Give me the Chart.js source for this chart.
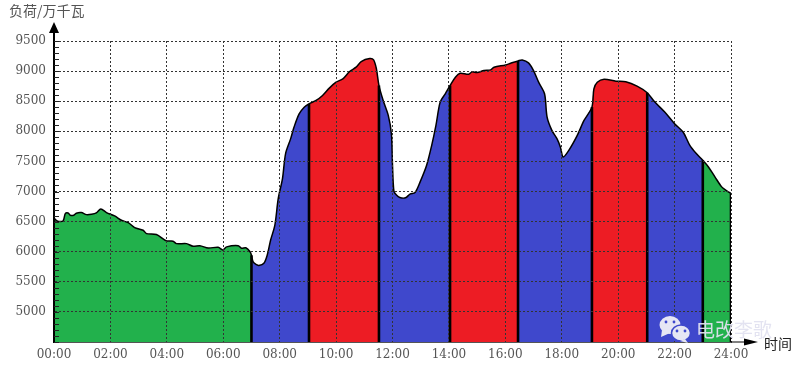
<!DOCTYPE html>
<html>
<head>
<meta charset="utf-8">
<title>负荷曲线</title>
<style>
    html, body { margin: 0; padding: 0; background: #fff; }
    canvas { display: block; }
</style>
<script src="https://cdn.jsdelivr.net/npm/chart.js@4/dist/chart.umd.min.js"></script>
</head>
<body>
<canvas id="load-chart" width="800" height="366"></canvas>
<script>
const hours = [
    0, 0.08, 0.14, 0.32, 0.4, 0.5, 0.58, 0.7, 0.79, 0.97, 1.15, 1.33, 1.5, 1.66, 1.86,
    2.15, 2.39, 2.63, 2.86, 3.16, 3.28, 3.63, 3.99, 4.22, 4.34, 4.7, 4.93, 5.17, 5.47, 5.82, 5.98,
    6.12, 6.53, 6.65, 6.8, 6.95, 7, 7.06, 7.18, 7.26, 7.44, 7.56, 7.68, 7.83, 7.95,
    8.1, 8.21, 8.39, 8.51, 8.69, 8.87, 9.04, 9.29, 9.52, 9.76, 10, 10.24, 10.48, 10.71, 10.89,
    11.19, 11.33, 11.43, 11.52, 11.67, 11.85, 11.96, 12, 12.05, 12.14, 12.26, 12.46, 12.62, 12.8, 12.98,
    13.21, 13.39, 13.54, 13.69, 13.87, 14.04, 14.23, 14.4, 14.7, 14.82, 15, 15.24, 15.48, 15.6,
    16.01, 16.19, 16.45, 16.6, 16.82, 17, 17.18, 17.39, 17.48, 17.65, 17.83, 17.95,
    18.05, 18.25, 18.55, 18.79, 19.07, 19.14, 19.26, 19.5, 19.92, 20.27, 20.67, 21.03,
    21.3, 21.65, 22, 22.3, 22.54, 22.77, 23, 23.2, 23.43, 23.67, 23.85, 24
];
const load = [
    6560, 6520, 6505, 6510, 6633, 6644, 6605, 6605, 6640, 6650, 6616, 6622, 6644, 6710, 6650,
    6594, 6522, 6483, 6400, 6356, 6300, 6285, 6180, 6175, 6134, 6134, 6090, 6100, 6060, 6075, 6030,
    6080, 6100, 6056, 6065, 6000, 5940, 5830, 5785, 5770, 5808, 5946, 6194, 6442, 6884,
    7215, 7630, 7878, 8070, 8290, 8400, 8457, 8512, 8595, 8717, 8816, 8871, 8993, 9065, 9158,
    9208, 9186, 9037, 8760, 8512, 8264, 7960, 7436, 7005, 6940, 6900, 6895, 6956, 6983, 7160,
    7436, 7767, 8098, 8485, 8623, 8760, 8899, 8965, 8949, 8987, 8976, 9009, 9020, 9065,
    9103, 9131, 9169, 9185, 9136, 9009, 8816, 8623, 8236, 8016, 7878, 7740,
    7574, 7684, 7933, 8180, 8402, 8706, 8816, 8866, 8833, 8822, 8750, 8640,
    8485, 8320, 8126, 7988, 7767, 7630, 7519, 7408, 7243, 7077, 7011, 6967
];
// period edges and the colour between each pair of edges
const periodEdges = [0, 7, 9.04, 11.52, 14.04, 16.45, 19.07, 21.03, 23, 24];
const periodColors = ['#22b14c', '#3f48cc', '#ed1c24', '#3f48cc', '#ed1c24', '#3f48cc', '#ed1c24', '#3f48cc', '#22b14c'];
const xTickLabels = ['00:00', '02:00', '04:00', '06:00', '08:00', '10:00', '12:00', '14:00', '16:00', '18:00', '20:00', '22:00', '24:00'];
const yMin = 4500;
const yMax = 9500;

const labelColor = '#555';
const numberFont = { family: '"DejaVu Serif"', size: 12 };

const datasets = [];

// black curve first so it sits above the fills
datasets.push({
    data: hours.map((h, i) => ({ x: h, y: load[i] })),
    borderColor: '#000',
    borderWidth: 1.5,
    fill: false,
    pointRadius: 0,
    tension: 0.3
});

// drop lines at every period edge
periodEdges.slice(1).forEach(edge => {
    datasets.push({
        data: [{ x: edge, y: yMin }, { x: edge, y: load[hours.indexOf(edge)] }],
        borderColor: '#000',
        borderWidth: 2.6,
        fill: false,
        pointRadius: 0
    });
});

periodColors.forEach((color, i) => {
    const points = [];
    hours.forEach((h, j) => {
        if (h >= periodEdges[i] && h <= periodEdges[i + 1]) {
            points.push({ x: h, y: load[j] });
        }
    });
    datasets.push({
        data: points,
        borderWidth: 0,
        backgroundColor: color,
        fill: 'start',
        pointRadius: 0,
        tension: 0.3
    });
});

const decorations = {
    id: 'decorations',
    afterDraw(chart) {
        const ctx = chart.ctx;
        const area = chart.chartArea;
        const yScale = chart.scales.y;
        ctx.save();

        // small ticks inside the y axis
        ctx.strokeStyle = '#222';
        ctx.lineWidth = 1;
        yScale.ticks.forEach(t => {
            const py = Math.round(yScale.getPixelForValue(t.value)) + 0.5;
            ctx.beginPath();
            ctx.moveTo(area.left, py);
            ctx.lineTo(area.left + 5, py);
            ctx.stroke();
        });

        // axis extensions and arrow heads
        ctx.strokeStyle = '#000';
        ctx.fillStyle = '#000';
        ctx.lineWidth = 2;
        ctx.beginPath();
        ctx.moveTo(area.left, area.top);
        ctx.lineTo(area.left, area.top - 9);
        ctx.stroke();
        ctx.beginPath();
        ctx.moveTo(area.left - 5, 33);
        ctx.lineTo(area.left + 5, 33);
        ctx.lineTo(area.left, 22);
        ctx.closePath();
        ctx.fill();

        ctx.lineWidth = 1;
        ctx.beginPath();
        ctx.moveTo(area.right, area.bottom);
        ctx.lineTo(746, area.bottom);
        ctx.stroke();
        ctx.beginPath();
        ctx.moveTo(744, area.bottom - 3.5);
        ctx.lineTo(744, area.bottom + 3.5);
        ctx.lineTo(758, area.bottom);
        ctx.closePath();
        ctx.fill();

        // axis titles
        ctx.fillStyle = labelColor;
        ctx.font = '14px "Noto Sans CJK SC"';
        ctx.textBaseline = 'middle';
        ctx.fillText('负荷/万千瓦', 9, 11);
        ctx.fillStyle = '#222';
        ctx.fillText('时间', 764, 344);

        // watermark
        ctx.fillStyle = '#e6e6f4';
        ctx.beginPath();
        ctx.ellipse(670, 325, 10.5, 9, 0, 0, Math.PI * 2);
        ctx.fill();
        ctx.beginPath();
        ctx.moveTo(662, 330);
        ctx.lineTo(661, 337);
        ctx.lineTo(670, 333);
        ctx.closePath();
        ctx.fill();
        ctx.strokeStyle = '#3f48cc';
        ctx.lineWidth = 1.5;
        ctx.beginPath();
        ctx.ellipse(681, 333, 9.5, 8, 0, 0, Math.PI * 2);
        ctx.fill();
        ctx.stroke();
        ctx.beginPath();
        ctx.moveTo(685, 339);
        ctx.lineTo(688, 343);
        ctx.lineTo(680, 341);
        ctx.closePath();
        ctx.fill();
        ctx.fillStyle = '#3f48cc';
        [[666, 322], [674, 322], [677, 331], [685, 331]].forEach(p => {
            ctx.beginPath();
            ctx.arc(p[0], p[1], 1.4, 0, Math.PI * 2);
            ctx.fill();
        });
        ctx.fillStyle = 'rgba(225, 225, 240, 0.95)';
        ctx.font = '19px "Noto Sans CJK SC"';
        ctx.fillText('电改李歌', 696, 330);

        ctx.restore();
    }
};

new Chart(document.getElementById('load-chart'), {
    type: 'line',
    data: { datasets: datasets },
    plugins: [decorations],
    options: {
        responsive: false,
        animation: false,
        layout: { padding: { top: 41, right: 69, bottom: 0, left: 0 } },
        plugins: {
            legend: { display: false },
            tooltip: { enabled: false },
            title: { display: false }
        },
        scales: {
            x: {
                type: 'linear',
                min: 0,
                max: 24,
                afterFit: scale => { scale.height = 24; },
                grid: {
                    z: 1,
                    drawTicks: false,
                    lineWidth: 1,
                    color: c => c.tick && c.tick.value === 0 ? 'rgba(0,0,0,0)' : '#333'
                },
                border: { color: '#555', width: 1, dash: [2, 2], z: 1 },
                ticks: {
                    stepSize: 2,
                    autoSkip: false,
                    maxRotation: 0,
                    padding: 6,
                    color: labelColor,
                    font: numberFont,
                    callback: value => xTickLabels[value / 2]
                }
            },
            y: {
                min: yMin,
                max: yMax,
                afterFit: scale => { scale.width = 54; },
                grid: {
                    z: 1,
                    drawTicks: false,
                    lineWidth: 1,
                    color: c => (c.tick && c.tick.value % 500 === 0 && c.tick.value > yMin) ? '#333' : 'rgba(0,0,0,0)'
                },
                border: { color: '#000', width: 2, dash: [2, 2], z: 1 },
                ticks: {
                    stepSize: 100,
                    autoSkip: false,
                    padding: 8,
                    color: labelColor,
                    font: numberFont,
                    callback: value => (value % 500 === 0 && value > yMin) ? String(value) : ''
                }
            }
        }
    }
});
</script>
</body>
</html>
